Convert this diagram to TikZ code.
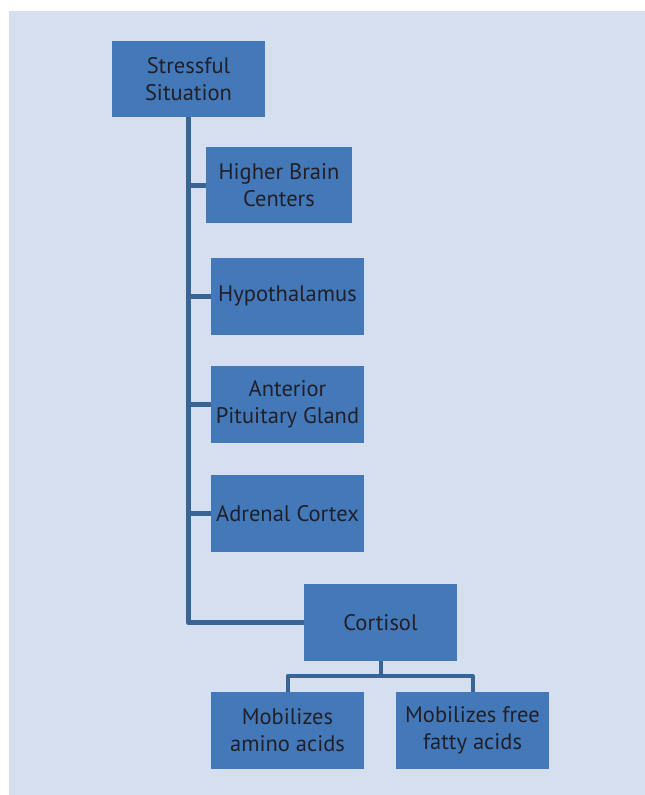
\documentclass[tikz,border=0pt]{standalone}
\usepackage{fontspec}
\setmainfont{PT Sans}
\usepackage{tikz}
\usetikzlibrary{positioning}
\definecolor{panel}{RGB}{213,223,240}
\definecolor{boxfill}{RGB}{67,121,185}
\definecolor{linkcol}{RGB}{56,100,150}
\definecolor{inkcol}{RGB}{35,31,40}

\begin{document}
\begin{tikzpicture}[x=1pt,y=-1pt,
	stepbox/.style={fill=boxfill,text=inkcol,align=center,font=\fontsize{22.5}{27}\selectfont,
		minimum width=153pt,minimum height=77pt,inner sep=2pt},
	link/.style={draw=linkcol,line width=5pt,line join=round},
	sublink/.style={draw=linkcol,line width=4pt,line join=round}]
	\useasboundingbox (0,0) rectangle (645,795);
	\fill[panel] (9,11) rectangle (645,795);
	% chain of boxes
	\node[stepbox,minimum height=76pt] (stress) at (188.5,79) {Stressful\\Situation};
	\node[stepbox,minimum width=146pt,minimum height=76pt] (brain) at (279,185) {Higher Brain\\Centers};
	\node[stepbox] (hypo) at (287.5,296) {Hypothalamus};
	\node[stepbox] (pit) at (287.5,404.5) {Anterior\\Pituitary Gland};
	\node[stepbox] (adrenal) at (287.5,513.5) {Adrenal Cortex};
	\node[stepbox] (cort) at (380.5,622.5) {Cortisol};
	\node[stepbox] (amino) at (287.5,730.5) {Mobilizes\\amino acids};
	\node[stepbox] (ffa) at (472.5,730.5) {Mobilizes free\\fatty acids};
	\coordinate (split) at ([yshift=-15pt]cort.south);
	% connectors
	\draw[link] (stress.south) |- (cort.west);
	\draw[link] (stress.south |- brain.west) -- (brain.west);
	\draw[link] (stress.south |- hypo.west) -- (hypo.west);
	\draw[link] (stress.south |- pit.west) -- (pit.west);
	\draw[link] (stress.south |- adrenal.west) -- (adrenal.west);
	\draw[sublink] (cort.south) -- (split) -| (amino.north);
	\draw[sublink] (split) -| (ffa.north);
\end{tikzpicture}
\end{document}
